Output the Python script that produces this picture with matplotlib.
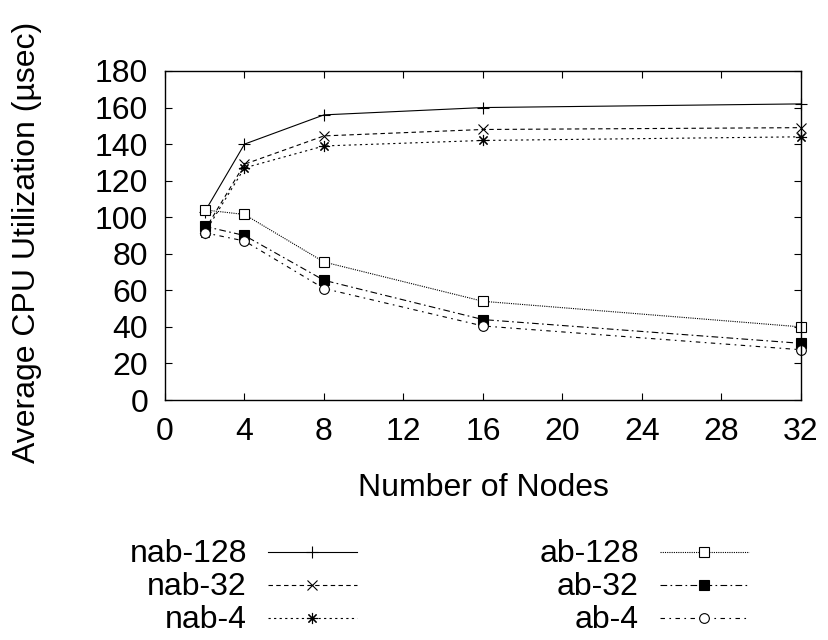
import matplotlib
matplotlib.use("Agg")
import matplotlib.pyplot as plt
from matplotlib.lines import Line2D

plt.rcParams['font.family'] = ['Liberation Sans', 'DejaVu Sans']

nodes = [2, 4, 8, 16, 32]
nab_128 = [103, 140, 156, 160, 162]
nab_32 = [93, 129, 144.5, 148, 149]
nab_4 = [91.5, 127, 139, 142, 144]
ab_128 = [104, 101.5, 75.5, 54, 40]
ab_32 = [95, 90, 65.5, 44, 31]
ab_4 = [91.5, 87, 61, 40.5, 27.5]

labels = ["nab-128", "nab-32", "nab-4", "ab-128", "ab-32", "ab-4"]
xticks = [0, 4, 8, 12, 16, 20, 24, 28, 32]
yticks = [0, 20, 40, 60, 80, 100, 120, 140, 160, 180]

LW = 0.8
styles = [
    dict(ls='-', marker='+', mfc='none', ms=8),
    dict(ls=(0, (4, 3)), marker='x', mfc='none', ms=7),
    dict(ls=(0, (2, 3)), marker=(8, 2, 0), mfc='none', ms=8),
    dict(ls=(0, (1, 1)), marker='s', mfc='white', ms=7),
    dict(ls=(0, (6, 3, 1.5, 3)), marker='s', mfc='black', ms=7),
    dict(ls=(0, (4, 4, 1.5, 4)), marker='o', mfc='white', ms=7),
]
series = [nab_128, nab_32, nab_4, ab_128, ab_32, ab_4]
FS = 23

W, H = 829, 640
fig = plt.figure(figsize=(W / 100, H / 100), dpi=100)
L, R, T, B = 165, 801, 71, 400
ax = fig.add_axes([L / W, 1 - B / H, (R - L) / W, (B - T) / H])

for ys, st in zip(series, styles):
    ax.plot(nodes, ys, color='black', lw=LW, mec='black', mew=LW, clip_on=False, **st)

ax.set_xlim(0, 32)
ax.set_ylim(0, 180)
ax.set_xticks(xticks)
ax.set_yticks(yticks)
ax.tick_params(direction='in', top=True, right=True, length=5, width=LW,
               labelsize=FS)
ax.tick_params(axis='x', pad=12)
ax.tick_params(axis='y', pad=12)
for s in ax.spines.values():
    s.set_linewidth(1.0)

fig.text((L + R) / 2 / W, 1 - 496 / H, "Number of Nodes", ha='center',
         va='baseline', fontsize=FS)
fig.text(27 / W, 1 - 242 / H, "Average CPU Utilization (\u00b5sec)", ha='center',
         va='center', rotation=90, fontsize=FS)

# legend drawn manually in gnuplot style (label right-aligned, sample to the right)
rows_y = [552, 585, 618]
cols = [(247, 268, 357), (639, 660, 749)]
for i, (lab, st) in enumerate(zip(labels, styles)):
    c = cols[i // 3]
    ry = rows_y[i % 3]
    yy = 1 - ry / H
    fig.text(c[0] / W, 1 - (ry + 10) / H, lab, ha='right', va='baseline', fontsize=FS)
    x0, x1 = c[1] / W, c[2] / W
    ln = Line2D([x0, (x0 + x1) / 2, x1], [yy, yy, yy], transform=fig.transFigure,
                color='black', lw=LW, mec='black', mew=LW, markevery=[1], **st)
    fig.add_artist(ln)

fig.savefig("out.png", dpi=100)
